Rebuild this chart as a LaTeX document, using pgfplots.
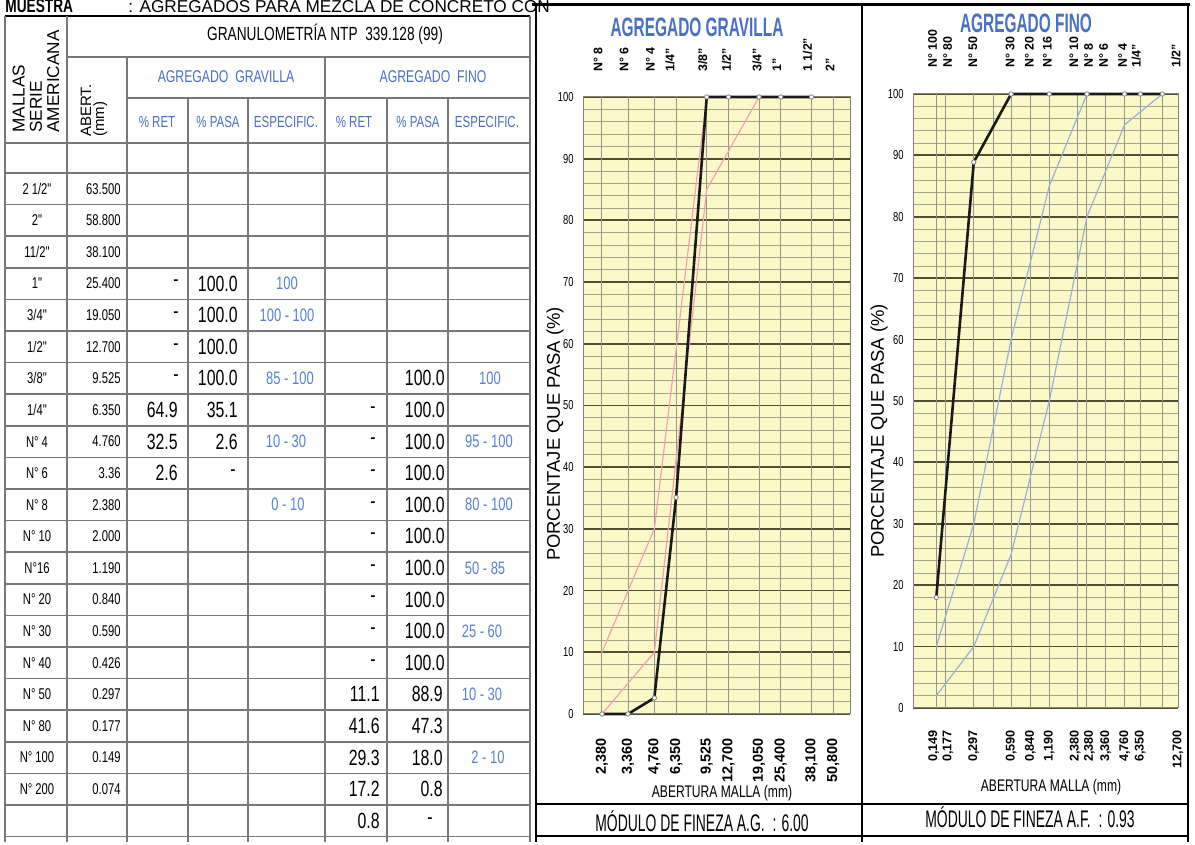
\documentclass[border=0pt]{standalone}
\usepackage{fontspec}
\setmainfont{Liberation Sans}
\newfontfamily\nr[FakeStretch=0.72]{Liberation Sans}
\newfontfamily\tnr[FakeStretch=0.58]{Liberation Sans}
\usepackage{pgfplots}
\pgfplotsset{compat=1.18}
\definecolor{chartbg}{RGB}{252,249,201}
\definecolor{majgrid}{RGB}{82,78,52}
\definecolor{mingrid}{RGB}{165,162,142}
\definecolor{vgridc}{RGB}{150,150,140}
\definecolor{tgray}{RGB}{120,120,120}
\definecolor{hblue}{RGB}{72,112,196}
\definecolor{sblue}{RGB}{85,130,210}
\definecolor{pinkc}{RGB}{242,160,178}
\definecolor{bluec}{RGB}{150,178,214}
\definecolor{curve}{RGB}{25,25,25}
\newcommand{\R}[3]{\node[#1] at (#2,{656.2-31.6*#3})}
\tikzset{
  tline/.style={draw=tgray,line width=0.75pt},
  nm/.style={font=\nr\fontsize{7.8}{8}\selectfont,inner sep=0pt},
  ab/.style={nm,anchor=east},
  val/.style={font=\nr\fontsize{11}{11}\selectfont,inner sep=0pt,anchor=east},
  dsh/.style={font=\nr\fontsize{11}{11}\selectfont,inner sep=0pt},
  spc/.style={font=\nr\fontsize{9}{9}\selectfont,inner sep=0pt,text=sblue},
  sh/.style={font=\nr\fontsize{8}{8}\selectfont,inner sep=0pt,text=hblue},
  bl/.style={rotate=90,anchor=east,inner sep=0pt,font=\bfseries\fontsize{7.2}{7.2}\selectfont},
  br/.style={rotate=90,anchor=east,inner sep=0pt,font=\bfseries\fontsize{6.3}{6.3}\selectfont},
  tp/.style={rotate=90,anchor=west,inner sep=0pt,font=\bfseries\fontsize{6.2}{6.2}\selectfont},
}
\begin{document}
\begin{tikzpicture}
\useasboundingbox (0pt,0pt) rectangle (597.5pt,422.5pt);
\clip (0pt,0pt) rectangle (597.5pt,422.5pt);
\fill[white] (0pt,0pt) rectangle (597.5pt,422.5pt);
\begin{scope}[x=0.5pt,y=0.5pt]
% ---------- top caption ----------
\node[anchor=base west,inner sep=0pt,font=\nr\bfseries\fontsize{9.5}{10}\selectfont] at (5,832) {MUESTRA};
\node[anchor=base west,inner sep=0pt,font=\fontsize{8.6}{10}\selectfont] at (128,832) {: AGREGADOS PARA MEZCLA DE CONCRETO CON};

% ---------- table grid ----------
\draw[draw=black,line width=1.2pt] (5,829) -- (530,829);
\draw[tline] (67,788) -- (530,788);
\draw[tline] (127,747) -- (530,747);
\draw[tline] (5,702) -- (530,702);
\foreach \k in {0,...,21} \draw[tline] (5,{672-31.6*\k}) -- (530,{672-31.6*\k});
\draw[tline] (5,829) -- (5,3);
\draw[tline] (67,829) -- (67,3);
\draw[tline] (127,788) -- (127,3);
\draw[tline] (188,747) -- (188,3);
\draw[tline] (248,747) -- (248,3);
\draw[tline] (325,788) -- (325,3);
\draw[tline] (387,747) -- (387,3);
\draw[tline] (448,747) -- (448,3);
\draw[tline] (530,829) -- (530,3);

% ---------- table header ----------
\node[font=\nr\fontsize{9.5}{10}\selectfont] at (325,811) {GRANULOMETRÍA NTP\ \ 339.128 (99)};
\node[font=\nr\fontsize{8.5}{9}\selectfont,text=hblue] at (226,768) {AGREGADO\ \ GRAVILLA};
\node[font=\nr\fontsize{8.5}{9}\selectfont,text=hblue] at (433,768) {AGREGADO\ \ FINO};
\node[sh] at (157,723) {\% RET};
\node[sh] at (218,723) {\% PASA};
\node[sh] at (286,723) {ESPECIFIC.};
\node[sh] at (354,723) {\% RET};
\node[sh] at (418,723) {\% PASA};
\node[sh] at (487,723) {ESPECIFIC.};
\node[rotate=90,anchor=west,align=left,inner sep=0pt,font=\fontsize{8.6}{8.6}\selectfont] at (36,712) {MALLAS\\SERIE\\AMERICANA};
\node[rotate=90,anchor=west,align=left,inner sep=0pt,font=\fontsize{7.5}{6.5}\selectfont] at (94,708) {ABERT.\\(mm)};

% ---------- table body ----------
\R{nm}{37}{0}{2 1/2"};   \R{ab}{121}{0}{63.500};
\R{nm}{37}{1}{2"};       \R{ab}{121}{1}{58.800};
\R{nm}{37}{2}{11/2"};    \R{ab}{121}{2}{38.100};
\R{nm}{37}{3}{1"};       \R{ab}{121}{3}{25.400};
\R{nm}{37}{4}{3/4"};     \R{ab}{121}{4}{19.050};
\R{nm}{37}{5}{1/2"};     \R{ab}{121}{5}{12.700};
\R{nm}{37}{6}{3/8"};     \R{ab}{121}{6}{9.525};
\R{nm}{37}{7}{1/4"};     \R{ab}{121}{7}{6.350};
\R{nm}{37}{8}{N° 4};     \R{ab}{121}{8}{4.760};
\R{nm}{37}{9}{N° 6};     \R{ab}{121}{9}{3.36};
\R{nm}{37}{10}{N° 8};    \R{ab}{121}{10}{2.380};
\R{nm}{37}{11}{N° 10};   \R{ab}{121}{11}{2.000};
\R{nm}{37}{12}{N°16};    \R{ab}{121}{12}{1.190};
\R{nm}{37}{13}{N° 20};   \R{ab}{121}{13}{0.840};
\R{nm}{37}{14}{N° 30};   \R{ab}{121}{14}{0.590};
\R{nm}{37}{15}{N° 40};   \R{ab}{121}{15}{0.426};
\R{nm}{37}{16}{N° 50};   \R{ab}{121}{16}{0.297};
\R{nm}{37}{17}{N° 80};   \R{ab}{121}{17}{0.177};
\R{nm}{37}{18}{N° 100};  \R{ab}{121}{18}{0.149};
\R{nm}{37}{19}{N° 200};  \R{ab}{121}{19}{0.074};
% gravilla
\R{dsh}{176}{3}{-}; \R{val}{238}{3}{100.0}; \R{spc}{287}{3}{100};
\R{dsh}{176}{4}{-}; \R{val}{238}{4}{100.0}; \R{spc}{287}{4}{100 - 100};
\R{dsh}{176}{5}{-}; \R{val}{238}{5}{100.0};
\R{dsh}{176}{6}{-}; \R{val}{238}{6}{100.0}; \R{spc}{290}{6}{85 - 100};
\R{val}{178}{7}{64.9}; \R{val}{238}{7}{35.1};
\R{val}{178}{8}{32.5}; \R{val}{238}{8}{2.6}; \R{spc}{286}{8}{10 - 30};
\R{val}{178}{9}{2.6};  \R{dsh}{233}{9}{-};
\R{spc}{288}{10}{0 - 10};
% fino
\R{val}{445}{6}{100.0}; \R{spc}{490}{6}{100};
\foreach \k in {7,...,15} {\R{dsh}{373}{\k}{-}; \R{val}{445}{\k}{100.0};}
\R{spc}{489}{8}{95 - 100};
\R{spc}{489}{10}{80 - 100};
\R{spc}{485}{12}{50 - 85};
\R{spc}{482}{14}{25 - 60};
\R{val}{380}{16}{11.1}; \R{val}{443}{16}{88.9}; \R{spc}{482}{16}{10 - 30};
\R{val}{380}{17}{41.6}; \R{val}{443}{17}{47.3};
\R{val}{380}{18}{29.3}; \R{val}{443}{18}{18.0}; \R{spc}{488}{18}{2 - 10};
\R{val}{380}{19}{17.2}; \R{val}{443}{19}{0.8};
\R{val}{380}{20}{0.8};  \R{dsh}{430}{20}{-};

% ---------- chart frames ----------
\draw[line width=1.5pt] (532,840) -- (1190,840);
\draw[line width=0.6pt] (536,840) -- (536,3);
\draw[line width=1.1pt] (862,840) -- (862,3);
\draw[line width=1.1pt] (1188,840) -- (1188,3);
\draw[line width=1.2pt] (536,41) -- (1188,41);
\draw[line width=1.2pt] (536,9) -- (1188,9);

% ---------- titles / labels ----------
\node[font=\tnr\bfseries\fontsize{13.3}{14}\selectfont,text=hblue] at (697,818) {AGREGADO GRAVILLA};
\node[font=\tnr\bfseries\fontsize{13.3}{14}\selectfont,text=hblue] at (1026,822) {AGREGADO FINO};
\node[rotate=90,inner sep=0pt,font=\fontsize{9.2}{9}\selectfont] at (555,411) {PORCENTAJE QUE PASA (\%)};
\node[rotate=90,inner sep=0pt,font=\fontsize{9.2}{9}\selectfont] at (879,414) {PORCENTAJE QUE PASA (\%)};
\node[font=\nr\fontsize{8.4}{9}\selectfont] at (722,52) {ABERTURA MALLA (mm)};
\node[font=\nr\fontsize{8.4}{9}\selectfont] at (1051,58) {ABERTURA MALLA (mm)};
\node[font=\tnr\fontsize{12}{12}\selectfont] at (702,24) {MÓDULO DE FINEZA A.G.\ \ : 6.00};
\node[font=\tnr\fontsize{12}{12}\selectfont] at (1030,28) {MÓDULO DE FINEZA A.F.\ \ : 0.93};
\end{scope}

% ---------- left chart ----------
\begin{axis}[
  at={(291.5pt,65.5pt)}, anchor=south west,
  scale only axis, width=133.5pt, height=308.5pt,
  xmode=log, xmin=1.851, xmax=63.5, ymin=0, ymax=100,
  axis background/.style={fill=chartbg},
  xtick=\empty,
  ytick={0,10,...,100}, minor ytick={2,4,...,98},
  ymajorgrids, yminorgrids,
  major grid style={draw=majgrid,line width=0.9pt},
  minor grid style={draw=mingrid,line width=0.4pt},
  major tick length=0pt, minor tick length=0pt,
  yticklabel style={font=\nr\fontsize{6.5}{7}\selectfont,inner sep=0pt,anchor=east,xshift=-4.5pt},
  /pgf/number format/assume math mode=true,
  axis line style={draw=majgrid!70,line width=0.5pt},
  clip=false,
]
\pgfplotsinvokeforeach{2.38,3.36,4.76,6.35,9.525,12.7,19.05,25.4,38.1,50.8}{
  \draw[vgridc,line width=0.5pt] (axis cs:#1,0) -- (axis cs:#1,100);
}
\addplot[pinkc,line width=0.6pt] coordinates {(2.38,0) (4.76,10) (9.525,85) (19.05,100) (25.4,100)};
\addplot[pinkc,line width=0.6pt] coordinates {(2.38,10) (4.76,30) (9.525,100) (25.4,100)};
\addplot[curve,line width=1.3pt,mark=*,mark size=1.1pt,mark options={fill=white,draw=gray,line width=0.4pt}]
  coordinates {(2.38,0) (3.36,0) (4.76,2.6) (6.35,35.1) (9.525,100) (12.7,100) (19.05,100) (25.4,100) (38.1,100)};
\node[bl] at ([yshift=-12pt]axis cs:2.38,0) {2,380};
\node[bl] at ([yshift=-12pt]axis cs:3.36,0) {3,360};
\node[bl] at ([yshift=-12pt]axis cs:4.76,0) {4,760};
\node[bl] at ([yshift=-12pt]axis cs:6.35,0) {6,350};
\node[bl] at ([yshift=-12pt]axis cs:9.525,0) {9,525};
\node[bl] at ([yshift=-12pt]axis cs:12.7,0) {12,700};
\node[bl] at ([yshift=-12pt]axis cs:19.05,0) {19,050};
\node[bl] at ([yshift=-12pt]axis cs:25.4,0) {25,400};
\node[bl] at ([yshift=-12pt]axis cs:38.1,0) {38,100};
\node[bl] at ([yshift=-12pt]axis cs:50.8,0) {50,800};
\node[tp] at ([xshift=-2pt,yshift=12.5pt]axis cs:2.38,100) {N° 8};
\node[tp] at ([xshift=-2pt,yshift=12.5pt]axis cs:3.36,100) {N° 6};
\node[tp] at ([xshift=-2pt,yshift=12.5pt]axis cs:4.76,100) {N° 4};
\node[tp] at ([xshift=-3pt,yshift=12.5pt]axis cs:6.35,100) {1/4"};
\node[tp] at ([xshift=-2pt,yshift=12.5pt]axis cs:9.525,100) {3/8"};
\node[tp] at ([xshift=-1pt,yshift=12.5pt]axis cs:12.7,100) {1/2"};
\node[tp] at ([xshift=-1pt,yshift=12.5pt]axis cs:19.05,100) {3/4"};
\node[tp] at ([xshift=-2pt,yshift=12.5pt]axis cs:25.4,100) {1"};
\node[tp] at ([xshift=-2pt,yshift=12.5pt]axis cs:38.1,100) {1 1/2"};
\node[tp] at ([xshift=-1.5pt,yshift=12.5pt]axis cs:50.8,100) {2"};
\end{axis}

% ---------- right chart ----------
\begin{axis}[
  at={(456.5pt,68.5pt)}, anchor=south west,
  scale only axis, width=132.5pt, height=307pt,
  xmode=log, xmin=0.0971, xmax=12.7, ymin=0, ymax=100,
  axis background/.style={fill=chartbg},
  xtick=\empty,
  ytick={0,10,...,100}, minor ytick={2,4,...,98},
  ymajorgrids, yminorgrids,
  major grid style={draw=majgrid,line width=0.9pt},
  minor grid style={draw=mingrid,line width=0.4pt},
  major tick length=0pt, minor tick length=0pt,
  yticklabel style={font=\nr\fontsize{6.5}{7}\selectfont,inner sep=0pt,anchor=east,xshift=-4.5pt},
  /pgf/number format/assume math mode=true,
  axis line style={draw=majgrid!70,line width=0.5pt},
  clip=false,
]
\pgfplotsinvokeforeach{0.149,0.177,0.297,0.426,0.59,0.84,1.19,2.0,2.38,3.36,4.76,6.35,9.525}{
  \draw[vgridc,line width=0.5pt] (axis cs:#1,0) -- (axis cs:#1,100);
}
\addplot[bluec,line width=0.6pt] coordinates {(0.149,2) (0.297,10) (0.59,25) (1.19,50) (2.38,80) (4.76,95) (9.525,100)};
\addplot[bluec,line width=0.6pt] coordinates {(0.149,10) (0.297,30) (0.59,60) (1.19,85) (2.38,100) (4.76,100) (9.525,100)};
\addplot[curve,line width=1.3pt,mark=*,mark size=1.1pt,mark options={fill=white,draw=gray,line width=0.4pt}]
  coordinates {(0.149,18.0) (0.297,88.9) (0.59,100) (1.19,100) (2.38,100) (4.76,100) (6.35,100) (9.525,100)};
\node[br] at ([xshift=-1.3pt,yshift=-11pt]axis cs:0.149,0) {0,149};
\node[br] at ([xshift=1.2pt,yshift=-11pt]axis cs:0.177,0) {0,177};
\node[br] at ([yshift=-11pt]axis cs:0.297,0) {0,297};
\node[br] at ([yshift=-11pt]axis cs:0.59,0) {0,590};
\node[br] at ([yshift=-11pt]axis cs:0.84,0) {0,840};
\node[br] at ([yshift=-11pt]axis cs:1.19,0) {1,190};
\node[br] at ([xshift=-1.2pt,yshift=-11pt]axis cs:2.0,0) {2,380};
\node[br] at ([xshift=1.2pt,yshift=-11pt]axis cs:2.38,0) {2,380};
\node[br] at ([yshift=-11pt]axis cs:3.36,0) {3,360};
\node[br] at ([yshift=-11pt]axis cs:4.76,0) {4,760};
\node[br] at ([yshift=-11pt]axis cs:6.35,0) {6,350};
\node[br] at ([yshift=-11pt]axis cs:12.7,0) {12,700};
\node[tp] at ([xshift=-1.8pt,yshift=13pt]axis cs:0.149,100) {N° 100};
\node[tp] at ([xshift=1pt,yshift=13pt]axis cs:0.177,100) {N° 80};
\node[tp] at ([xshift=-0.5pt,yshift=13pt]axis cs:0.297,100) {N° 50};
\node[tp] at ([xshift=-0.5pt,yshift=13pt]axis cs:0.59,100) {N° 30};
\node[tp] at ([xshift=-0.5pt,yshift=13pt]axis cs:0.84,100) {N° 20};
\node[tp] at ([xshift=-1pt,yshift=13pt]axis cs:1.19,100) {N° 16};
\node[tp] at ([xshift=-1.8pt,yshift=13pt]axis cs:2.0,100) {N° 10};
\node[tp] at ([xshift=0.8pt,yshift=13pt]axis cs:2.38,100) {N° 8};
\node[tp] at ([xshift=-1pt,yshift=13pt]axis cs:3.36,100) {N° 6};
\node[tp] at ([xshift=-1pt,yshift=13pt]axis cs:4.76,100) {N° 4};
\node[tp] at ([xshift=-2pt,yshift=13pt]axis cs:6.35,100) {1/4"};
\node[tp] at ([xshift=-1pt,yshift=13pt]axis cs:12.7,100) {1/2"};
\end{axis}
\end{tikzpicture}
\end{document}
